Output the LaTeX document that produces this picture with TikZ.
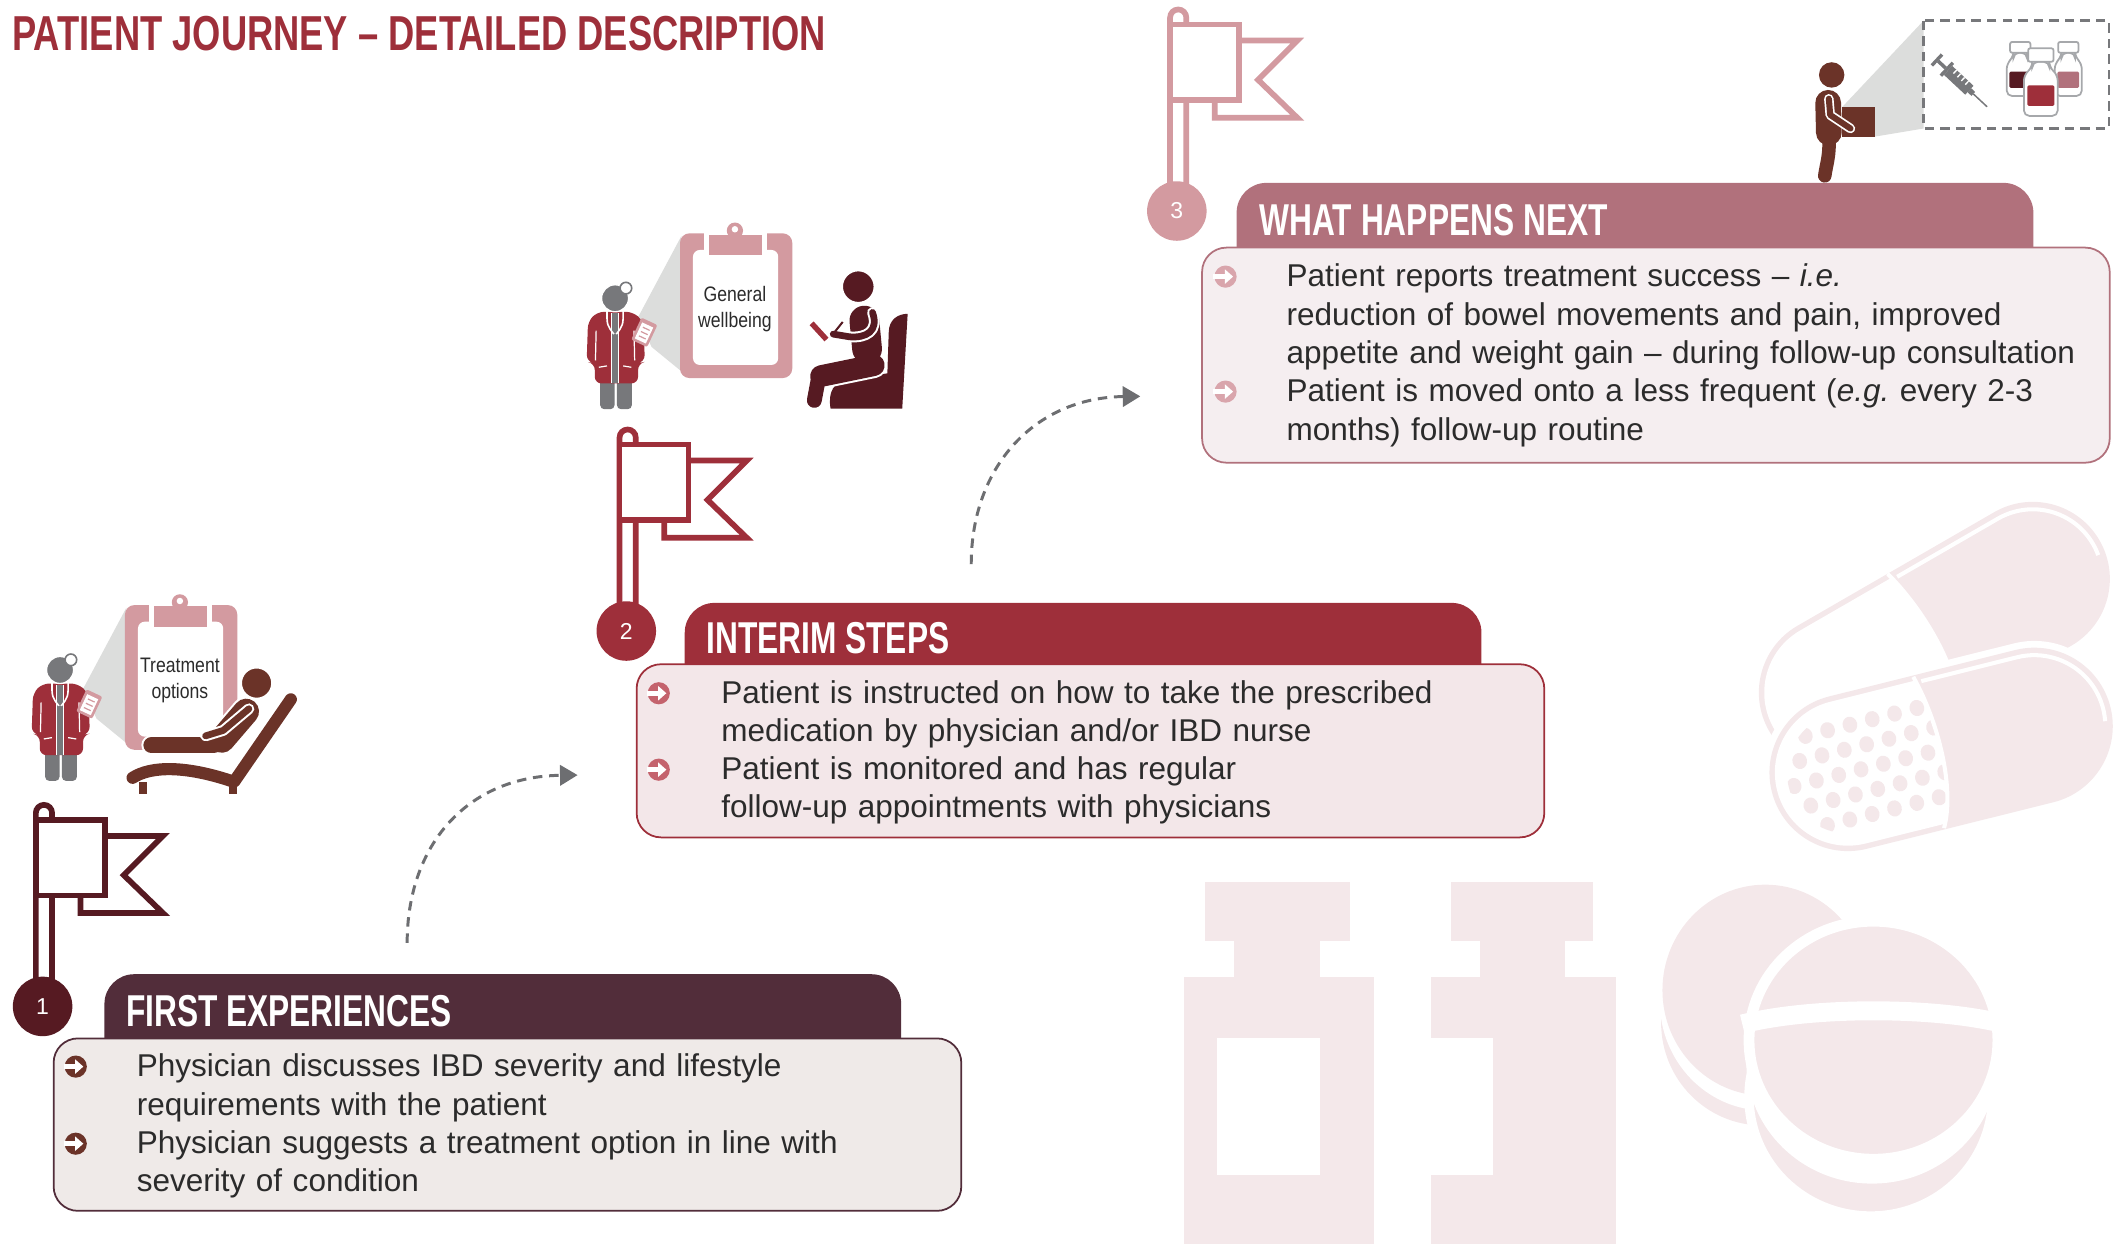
\documentclass[tikz,border=0pt]{standalone}
\usepackage{fontspec}
\setmainfont{Liberation Sans}
\newfontfamily\headfont[FakeStretch=0.71]{Liberation Sans}
\newfontfamily\titlefont[FakeStretch=0.74]{Liberation Sans}
\newfontfamily\notefont[FakeStretch=0.84]{Liberation Sans}
\usepackage{tikz}
\usetikzlibrary{arrows.meta, positioning}
\usepackage{xcolor}
\definecolor{plum}{HTML}{522D3A}
\definecolor{maroon}{HTML}{561A22}
\definecolor{wine}{HTML}{9E2F3A}
\definecolor{rose}{HTML}{B1717C}
\definecolor{blush}{HTML}{D39AA0}
\definecolor{brownfig}{HTML}{6B3328}
\definecolor{greyfig}{HTML}{77787B}
\definecolor{vialgrey}{HTML}{A6A8AB}
\definecolor{beam}{HTML}{DCDDDC}
\definecolor{wmark}{HTML}{F4E8EA}
\definecolor{fillone}{HTML}{EFEAE8}
\definecolor{filltwo}{HTML}{F3E7E9}
\definecolor{fillthree}{HTML}{F5EEF0}
\definecolor{bulone}{HTML}{6B3328}
\definecolor{bultwo}{HTML}{C4636D}
\definecolor{bulthree}{HTML}{D9A5AC}
\definecolor{ink}{HTML}{2B2B2B}
\definecolor{arrowgrey}{HTML}{6D6E71}

\tikzset{
  headtab/.style={fill=#1, rounded corners=22pt, minimum width=589pt, minimum height=70pt, anchor=north west, inner sep=0pt},
  bodybox/.style={draw=#1, line width=1.3pt, rounded corners=18pt, minimum width=671pt, anchor=north west, inner sep=0pt},
  headtext/.style={anchor=base west, inner sep=0pt, text=white, font=\headfont\bfseries\fontsize{33}{36}\selectfont},
  itemtext/.style={anchor=base west, inner sep=0pt, text=ink, text width=640pt, align=left, font=\fontsize{23.3}{28.3}\selectfont},
  notetext/.style={inner sep=0pt, text=ink, align=center, font=\notefont\fontsize{15.5}{19.2}\selectfont},
  numdot/.style={circle, fill=#1, minimum size=44pt, inner sep=0pt, text=white, font=\fontsize{17}{17}\selectfont},
  journey/.style={draw=arrowgrey, line width=2.2pt, dash pattern=on 7pt off 5pt, -{Triangle[length=13pt, width=15pt]}},
  figline/.style={line cap=round, line join=round},
  % round bullet with a white arrow
  pics/pointer/.style={code={
    \fill[#1] (0,0) circle[radius=8.2pt];
    \fill[white] (-9,-1.9) rectangle (0.5,1.9);
    \fill[white] (-0.5,-5.4) -- (5.6,0) -- (-0.5,5.4) -- cycle;
  }},
  % milestone flag, origin at the number disc
  pics/flagpole/.style={code={
    \draw[#1, line width=4.2pt, fill=white] (-5,0) -- (-5,-143) arc[start angle=180, end angle=0, radius=6pt] -- (7,0);
    \draw[#1, line width=4.2pt, fill=white] (28,-126) -- (89,-126) -- (60,-97) -- (89,-69) -- (28,-69) -- cycle;
    \draw[#1, line width=4.2pt, fill=white] (-5,-138) rectangle (46,-82);
  }},
  % doctor showing a clipboard, origin at the doctor's head
  pics/consult/.style 2 args={code={
    \fill[beam] (17,14) -- (49,-46) -- (49,54) -- (27,36) -- cycle;
    % clipboard
    \fill[blush, rounded corners=7pt] (48,-48) rectangle (131,59);
    \fill[white, rounded corners=5pt] (57.6,-35.7) rectangle (120.6,49.3);
    \fill[white] (65.6,-50) rectangle (112.6,-33);
    \fill[blush] (69.6,-47) rectangle (108.6,-32);
    \fill[blush] (88.6,-50) circle[radius=6pt];
    \fill[white] (88.6,-51) circle[radius=2.4pt];
    \node[notetext] (-note) at (88.6,7.7) {#1\\#2};
    % doctor
    \fill[greyfig, rounded corners=3pt] (-11,56) rectangle (-0.4,82);
    \fill[greyfig, rounded corners=3pt] (1.4,56) rectangle (12.4,82);
    \fill[wine, rounded corners=5pt] (-13,10) -- (13,10) -- (21,17) -- (22,47) -- (17,48) -- (17,63) -- (-15,63) -- (-15,48) -- (-21,47) -- (-20,17) -- cycle;
    \draw[white, line width=0.9pt] (-14,24) -- (-14.5,46) (14,24) -- (14.5,46) (-12,51) -- (-6,50) (6,50) -- (12,51);
    \fill[greyfig] (-2.8,11) rectangle (2.8,63);
    \draw[white, line width=0.9pt] (-2.8,11) -- (-2.8,63) (2.8,11) -- (2.8,63);
    \draw[white, line width=1.2pt] (-6,9) .. controls (-6,20) .. (-0.5,27) (6,9) .. controls (6,20) .. (0.5,27);
    \fill[greyfig] (0,28.5) circle[radius=2.2pt];
    \filldraw[fill=greyfig, draw=white, line width=1pt] (0,0) circle[radius=10pt];
    \filldraw[fill=white, draw=greyfig, line width=1.2pt] (8,-7.5) circle[radius=4.3pt];
    \begin{scope}[shift={(21.6,25.2)}, rotate=-25]
      \fill[blush, rounded corners=1.5pt] (-6.5,-9) rectangle (6.5,9);
      \fill[white] (-4.5,-6) rectangle (4.5,7);
      \draw[blush, line width=0.9pt] (-2.5,-3) -- (3,-3) (-2.5,0.5) -- (3,0.5) (-2.5,4) -- (3,4);
    \end{scope}
  }},
}

\begin{document}
\begin{tikzpicture}[x=1pt, y=-1pt]
\useasboundingbox (0,0) rectangle (1568,920);

\node[anchor=base west, inner sep=0pt, text=wine, font=\titlefont\bfseries\fontsize{36.3}{38}\selectfont] (title) at (9,37) {PATIENT JOURNEY – DETAILED DESCRIPTION};

% pale medicine shapes in the background
\fill[wmark] (891,652) rectangle (998,696);
\fill[wmark] (912,696) rectangle (976,722);
\fill[wmark] (875,722) rectangle (1016,920);
\fill[white] (900,767) rectangle (976,869);
\fill[wmark] (1073,652) rectangle (1178,696);
\fill[wmark] (1094,696) rectangle (1157,722);
\fill[wmark] (1058,722) rectangle (1195,920);
\fill[white] (1058,767) rectangle (1104,869);

\fill[wmark] (1303,756) ellipse[x radius=75pt, y radius=76pt];
\fill[white] (1305,740) ellipse[x radius=78pt, y radius=81pt];
\fill[wmark] (1305,732) ellipse[x radius=76pt, y radius=78pt];
\filldraw[fill=wmark, draw=white, line width=7pt] (1383,811) ellipse[x radius=90pt, y radius=88pt];
\fill[white] (1384,785) ellipse[x radius=93pt, y radius=90pt];
\filldraw[fill=wmark, draw=white, line width=8pt] (1385,769) ellipse[x radius=92pt, y radius=88pt];
\draw[white, line width=14pt] (1288,757) .. controls (1340,744) and (1430,744) .. (1482,757);

\begin{scope}[shift={(1430,470)}, rotate=30]
  \fill[wmark, rounded corners=57pt] (-141,-57) rectangle (141,57);
  \begin{scope}
    \clip (-7,-60) .. controls (3,-20) and (3,30) .. (-12,60) -- (-150,60) -- (-150,-60) -- cycle;
    \fill[white, rounded corners=53pt] (-137,-53) rectangle (137,53);
  \end{scope}
  \draw[white, line width=3pt] (-7,-57) .. controls (3,-20) and (3,30) .. (-12,57);
  \draw[white, line width=3pt] (-2,-51.5) -- (84,-51.5) arc[start angle=90, end angle=-10, radius=51.5pt];
\end{scope}
\begin{scope}[shift={(1435,554)}, rotate=14]
  \fill[white, rounded corners=63pt] (-134,-63) rectangle (134,63);
  \fill[wmark, rounded corners=58pt] (-129,-58) rectangle (129,58);
  \begin{scope}
    \clip (-7,-60) .. controls (3,-20) and (3,30) .. (-12,60) -- (-140,60) -- (-140,-60) -- cycle;
    \fill[white, rounded corners=54pt] (-125,-54) rectangle (125,54);
    \clip[rounded corners=45pt] (-116,-45) rectangle (116,45);
    \foreach \row in {0,...,4}
      \foreach \col in {0,...,6}
        \fill[wmark] ({-112+17*\col+8.5*mod(\row,2)},{-34+17*\row}) ellipse[x radius=5.4pt, y radius=6pt];
  \end{scope}
  \draw[white, line width=3pt] (-7,-57) .. controls (3,-20) and (3,30) .. (-12,57);
  \draw[white, line width=3pt] (-2,-52.5) -- (71,-52.5) arc[start angle=90, end angle=-10, radius=52.5pt];
\end{scope}

% first visit: doctor and reclining patient
\pic (visit) at (44.4,495.3) {consult={Treatment}{options}};
\fill[brownfig] (102.5,578) rectangle (108.5,587);
\fill[brownfig] (169.5,578) rectangle (175.5,587);
\draw[brownfig, figline, line width=9pt] (98,575) .. controls (112,566) and (138,566) .. (173,578) -- (215,517);
\draw[white, figline, line width=15pt] (112,551) -- (158,551);
\draw[white, figline, line width=22pt] (164,547) -- (182,526);
\draw[brownfig, figline, line width=12pt] (112,551) -- (158,551);
\draw[brownfig, figline, line width=19pt] (164,547) -- (182,526);
\draw[white, figline, line width=8pt] (184,524) -- (165,540) -- (152,544);
\draw[brownfig, figline, line width=5pt] (184,524) -- (165,540) -- (152,544);
\filldraw[fill=brownfig, draw=white, line width=2pt] (189.7,505) circle[radius=11.8pt];

% check-up: doctor and seated patient
\pic (checkup) at (454.7,220.5) {consult={General}{wellbeing}};
\fill[maroon] (657,246) .. controls (657,236) and (664,232) .. (671,232) -- (667,302) -- (614,302) .. controls (612,290) and (616,282) .. (628,280) -- (656,276) -- cycle;
\draw[white, figline, line width=19pt] (646,270) -- (607,278);
\draw[white, figline, line width=25pt] (639,237) -- (641,258);
\draw[maroon, figline, line width=11pt] (605,280) -- (602,296);
\draw[maroon, figline, line width=16pt] (646,270) -- (607,278);
\draw[maroon, figline, line width=22pt] (639,237) -- (641,258);
\draw[white, figline, line width=8pt] (645,231) .. controls (650,245) and (640,250) .. (628,249) -- (616,247);
\draw[maroon, figline, line width=5pt] (645,231) .. controls (650,245) and (640,250) .. (628,249) -- (616,247);
\draw[maroon, line width=1.5pt] (615,248) -- (623,238);
\draw[wine, line width=4pt] (600,239) -- (611,251);
\filldraw[fill=maroon, draw=white, line width=2pt] (634.5,211.9) circle[radius=12.3pt];

% follow-up: patient carrying the medication
\fill[beam] (1362,79) -- (1422,15.3) -- (1422,95) -- (1386,101) -- cycle;
\draw[greyfig, line width=2pt, dash pattern=on 7pt off 4.5pt] (1422,15.3) rectangle (1559,95);
\draw[brownfig, figline, line width=10pt] (1352,100) .. controls (1353,115) and (1350,122) .. (1349,130);
\draw[brownfig, figline, line width=19pt] (1351.5,76) -- (1352,98);
\fill[brownfig] (1361.5,79) rectangle (1386,101);
\draw[white, figline, line width=7pt] (1352,73) -- (1353,85) -- (1368,95);
\draw[brownfig, figline, line width=4.5pt] (1352,73) -- (1353,85) -- (1368,95);
\fill[brownfig] (1354.1,55.4) circle[radius=9.4pt];
\begin{scope}[shift={(1431,43.5)}, rotate=-43]
  \fill[greyfig] (0,-5.5) rectangle (2.5,5.5);
  \fill[greyfig] (2.5,-1.3) rectangle (10,1.3);
  \fill[greyfig] (10,-6.5) rectangle (12.5,6.5);
  \fill[greyfig] (12.5,-4.5) rectangle (34,4.5);
  \draw[white, line width=1pt] (17,-4.5) -- (17,-1) (21,-4.5) -- (21,-1) (25,-4.5) -- (25,-1) (29,-4.5) -- (29,-1);
  \fill[greyfig] (34,-2) rectangle (38,2);
  \draw[greyfig, line width=1.1pt] (38,0) -- (52,0);
\end{scope}
\foreach \vx/\vy/\vs/\vc in {1493.5/31/1/maroon, 1529/31/1/rose, 1508.7/35.7/1.25/wine} {
  \begin{scope}[shift={(\vx,\vy)}, scale=\vs]
    \filldraw[fill=white, draw=vialgrey, line width=1.3pt, rounded corners=4pt] (-5,8) -- (-5,11) -- (-10,16) -- (-10,40) -- (10,40) -- (10,16) -- (5,11) -- (5,8) -- cycle;
    \filldraw[fill=white, draw=vialgrey, line width=1.3pt, rounded corners=1.5pt] (-7.5,0) rectangle (7.5,8);
    \fill[\vc, rounded corners=1pt] (-8,22) rectangle (8,34);
  \end{scope}
}

% flags and numbers
\pic at (31.5,744) {flagpole=maroon};
\pic at (463,466.5) {flagpole=wine};
\pic at (870,156) {flagpole=blush};
\node[numdot=maroon] (num1) at (31.5,744) {1};
\node[numdot=wine] (num2) at (463,466.5) {2};
\node[numdot=blush] (num3) at (870,156) {3};

% stage 1
\node[headtab=plum] (head1) at (77,720) {};
\node[bodybox=plum, fill=fillone, minimum height=127.5pt] (body1) at (39,767) {};
\node[headtext] (title1) at (93,759) {FIRST EXPERIENCES};
\pic at (56,788.5) {pointer=bulone};
\pic at (56,845.5) {pointer=bulone};
\node[itemtext] (item1a) at (101,796) {Physician discusses IBD severity and lifestyle\\requirements with the patient};
\node[itemtext] (item1b) at (101,852.8) {Physician suggests a treatment option in line with\\severity of condition};

% stage 2
\node[headtab=wine] (head2) at (506,445.5) {};
\node[bodybox=wine, fill=filltwo, minimum height=128pt] (body2) at (470,490.4) {};
\node[headtext] (title2) at (522,483) {INTERIM STEPS};
\pic at (487,512.5) {pointer=bultwo};
\pic at (487,569) {pointer=bultwo};
\node[itemtext] (item2a) at (533,520) {Patient is instructed on how to take the prescribed\\medication by physician and/or IBD nurse};
\node[itemtext] (item2b) at (533,576.4) {Patient is monitored and has regular\\follow-up appointments with physicians};

% stage 3
\node[headtab=rose] (head3) at (914,135) {};
\node[bodybox=rose, fill=fillthree, minimum height=159pt] (body3) at (888,182.4) {};
\node[headtext] (title3) at (931,174) {WHAT HAPPENS NEXT};
\pic at (906,204.5) {pointer=bulthree};
\pic at (906,289.5) {pointer=bulthree};
\node[itemtext] (item3a) at (951,212) {Patient reports treatment success – \textit{i.e.}\\reduction of bowel movements and pain, improved\\appetite and weight gain – during follow-up consultation};
\node[itemtext] (item3b) at (951,297) {Patient is moved onto a less frequent (\textit{e.g.}\ every 2-3\\months) follow-up routine};

% dashed steps between the stages
\coordinate (go1) at (301,697);
\coordinate (to1) at (427,573);
\coordinate (go2) at (718,417);
\coordinate (to2) at (843,293);
\draw[journey] (go1) .. controls (301,625) and (345,574) .. (to1);
\draw[journey] (go2) .. controls (718,345) and (765,294) .. (to2);
\end{tikzpicture}
\end{document}
